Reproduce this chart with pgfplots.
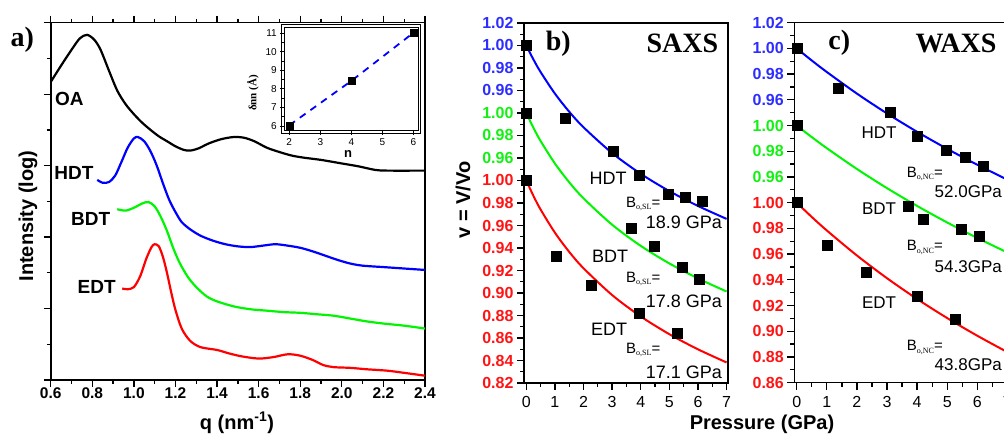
\documentclass[border=0pt]{standalone}
\usepackage{pgfplots}
\pgfplotsset{compat=1.18}
\usepackage{pgfplotstable}
\usepackage{fontspec}
\setmainfont{Liberation Serif}
\setsansfont{Liberation Sans}

\definecolor{cblue}{RGB}{0,0,255}
\definecolor{cgreen}{RGB}{0,245,0}
\definecolor{cred}{RGB}{255,0,0}
\definecolor{tblue}{RGB}{45,45,255}
\definecolor{tgreen}{RGB}{20,240,20}
\definecolor{tred}{RGB}{255,20,20}
\newcommand{\rl}[1]{\textcolor{tred}{#1}}
\newcommand{\gl}[1]{\textcolor{tgreen}{#1}}
\newcommand{\bl}[1]{\textcolor{tblue}{#1}}
\newcommand{\Bsub}[1]{{\fontsize{15}{15}\selectfont B\raisebox{-2.5pt}{\rmfamily\fontsize{8}{8}\selectfont #1}=}}

% ---- panel a: SAXS intensity curves (y in arbitrary log units, 0..5)
\pgfplotstableread{
q I
0.60 4.17
0.65 4.40
0.70 4.62
0.74 4.78
0.775 4.83
0.81 4.76
0.84 4.62
0.88 4.33
0.92 4.05
0.96 3.86
1.00 3.72
1.04 3.60
1.08 3.50
1.12 3.41
1.16 3.34
1.20 3.27
1.24 3.22
1.27 3.21
1.31 3.24
1.36 3.31
1.42 3.37
1.48 3.40
1.53 3.39
1.58 3.34
1.64 3.25
1.70 3.19
1.76 3.14
1.82 3.11
1.90 3.08
2.00 3.03
2.08 2.99
2.16 2.94
2.22 2.93
2.40 2.93
}\curveOA
\pgfplotstableread{
q I
0.824 2.80
0.85 2.76
0.88 2.77
0.91 2.86
0.94 3.05
0.97 3.25
1.00 3.38
1.02 3.40
1.05 3.34
1.08 3.20
1.11 3.00
1.14 2.75
1.17 2.52
1.20 2.35
1.23 2.21
1.27 2.11
1.32 2.02
1.38 1.95
1.44 1.90
1.50 1.87
1.56 1.86
1.62 1.88
1.68 1.90
1.74 1.88
1.80 1.85
1.86 1.80
1.92 1.74
1.98 1.68
2.04 1.63
2.10 1.60
2.20 1.58
2.30 1.56
2.40 1.54
}\curveHDT
\pgfplotstableread{
q I
0.92 2.39
0.96 2.37
1.00 2.41
1.04 2.47
1.07 2.49
1.10 2.43
1.13 2.28
1.16 2.08
1.19 1.84
1.22 1.64
1.26 1.44
1.30 1.30
1.35 1.17
1.40 1.10
1.48 1.03
1.56 0.99
1.64 0.97
1.72 0.95
1.80 0.94
1.88 0.92
1.96 0.90
2.04 0.86
2.12 0.82
2.20 0.79
2.30 0.76
2.40 0.72
}\curveBDT
\pgfplotstableread{
q I
0.944 1.28
0.97 1.27
1.00 1.30
1.03 1.45
1.06 1.70
1.085 1.86
1.10 1.90
1.12 1.87
1.14 1.72
1.16 1.49
1.18 1.22
1.20 0.98
1.23 0.72
1.27 0.55
1.32 0.46
1.40 0.42
1.46 0.37
1.52 0.33
1.60 0.30
1.67 0.32
1.74 0.36
1.80 0.34
1.86 0.28
1.91 0.21
1.96 0.18
2.04 0.17
2.12 0.15
2.22 0.13
2.30 0.10
2.40 0.06
}\curveEDT

% ---- panel b: SAXS, v = V/Vo
\pgfplotstableread{
P v
0 1.000
1.37 0.935
3.05 0.906
3.95 0.885
4.95 0.868
5.56 0.865
6.14 0.862
}\bHDT
\pgfplotstableread{
P v
0 1.000
3.66 0.898
4.48 0.882
5.45 0.863
6.06 0.852
}\bBDT
\pgfplotstableread{
P v
0 1.000
1.06 0.933
2.27 0.907
3.95 0.882
5.28 0.864
}\bEDT
\pgfplotstableread{
P hdt bdt edt
0    1.00000 1.00000 1.00000
0.25 0.98754 0.98682 0.98631
0.5  0.97642 0.97512 0.97422
1    0.95725 0.95511 0.95364
1.5  0.94115 0.93843 0.93656
2    0.92729 0.92416 0.92201
3    0.90440 0.90070 0.89818
4    0.88596 0.88190 0.87916
5    0.87056 0.86628 0.86339
6    0.85738 0.85295 0.84995
7    0.84588 0.84134 0.83827
}\bFit

% ---- panel c: WAXS, v = V/Vo
\pgfplotstableread{
P v
0 1.000
1.38 0.969
3.10 0.950
3.99 0.932
4.98 0.921
5.59 0.915
6.18 0.908
}\cHDT
\pgfplotstableread{
P v
0 1.000
3.71 0.937
4.19 0.927
5.45 0.919
6.07 0.914
}\cBDT
\pgfplotstableread{
P v
0 1.000
1.02 0.967
2.30 0.946
3.99 0.927
5.26 0.909
}\cEDT
\pgfplotstableread{
P hdt bdt edt
0   1.00000 1.00000 1.00000
0.5 0.99061 0.99100 0.98890
1   0.98164 0.98239 0.97839
2   0.96485 0.96622 0.95893
3   0.94941 0.95131 0.94126
4   0.93513 0.93748 0.92511
5   0.92187 0.92459 0.91025
6   0.90949 0.91256 0.89652
7   0.89790 0.90126 0.88377
}\cFit

\pgfplotsset{
  every axis/.append style={scale only axis, anchor=south west,
    axis line style={line width=1.6pt}, tick style={line width=1.3pt, black},
    tick align=outside, major tick length=7pt, minor tick length=4pt},
  fit/.style={line width=2pt, smooth},
  pts/.style={only marks, mark=square*, mark size=5pt, black},
}

\begin{document}
\begin{tikzpicture}
\path[use as bounding box] (0pt,0pt) rectangle (1004pt,435pt);

% panel a
\begin{axis}[at={(50.7pt,55pt)}, width=374.3pt, height=357.3pt,
  xmin=0.6, xmax=2.4, ymin=0, ymax=5,
  xtick={0.6,0.8,1.0,1.2,1.4,1.6,1.8,2.0,2.2,2.4},
  xticklabels={0.6,0.8,1.0,1.2,1.4,1.6,1.8,2.0,2.2,2.4},
  minor x tick num=1,
  ytick={0,1,2,3,4,5}, yticklabels={}, minor y tick num=1,
  xtick pos=both, ytick pos=left, xticklabel shift=-3pt,
  tick label style={font=\sffamily\bfseries\fontsize{15.5}{15.5}\selectfont}]
\addplot[black, line width=2.2pt, smooth] table[x=q, y=I] {\curveOA};
\addplot[cblue, line width=2.2pt, smooth] table[x=q, y=I] {\curveHDT};
\addplot[cgreen, line width=2.2pt, smooth] table[x=q, y=I] {\curveBDT};
\addplot[cred, line width=2.2pt, smooth] table[x=q, y=I] {\curveEDT};
\end{axis}

% inset
\begin{axis}[at={(284.3pt,304.3pt)}, width=134pt, height=103.4pt,
  xmin=1.84, xmax=6.16, ymin=5.75, ymax=11.32,
  xtick={2,3,4,5,6}, xticklabels={2,3,4,5,6},
  ytick={6,7,8,9,10,11}, yticklabels={6,7,8,9,10,11},
  minor y tick num=1, tick pos=left,
  axis background/.style={fill=white},
  axis line style={line width=1.1pt}, tick style={line width=0.9pt},
  major tick length=4pt, minor tick length=2.5pt,
  tick label style={font=\sffamily\fontsize{10}{10}\selectfont},
  clip=false]
\addplot[cblue, line width=1.8pt, dash pattern=on 7pt off 6pt] coordinates {(2,6.04) (4,8.43) (6,11.02)};
\addplot[only marks, mark=square*, mark size=3.5pt, black] coordinates {(2,6.04) (4,8.43) (6,11.02)};
\draw[line width=1pt] ([shift={(-2.6pt,-2.6pt)}]rel axis cs:0,0) rectangle ([shift={(2.6pt,2.6pt)}]rel axis cs:1,1);
\end{axis}

% panel b
\begin{axis}[at={(524pt,52pt)}, width=203.7pt, height=360pt,
  xmin=-0.08, xmax=7.04, ymin=0.82, ymax=1.14,
  xtick={0,1,2,3,4,5,6,7}, xticklabels={0,1,2,3,4,5,6,7}, minor x tick num=1,
  ytick={0.82,0.84,0.86,0.88,0.90,0.92,0.94,0.96,0.98,1.00,1.02,1.04,1.06,1.08,1.10,1.12,1.14},
  yticklabels={\rl{0.82},\rl{0.84},\rl{0.86},\rl{0.88},\rl{0.90},\rl{0.92},\rl{0.94},\rl{0.96},\rl{0.98},\rl{1.00},\gl{0.96},\gl{0.98},\gl{1.00},\bl{0.96},\bl{0.98},\bl{1.00},\bl{1.02}},
  minor y tick num=1, tick pos=left, xticklabel shift=3pt,
  x tick label style={font=\sffamily\fontsize{16}{16}\selectfont},
  y tick label style={font=\sffamily\bfseries\fontsize{16}{16}\selectfont}]
\addplot[fit, cblue] table[x=P, y expr=\thisrow{hdt}+0.12] {\bFit};
\addplot[fit, cgreen] table[x=P, y expr=\thisrow{bdt}+0.06] {\bFit};
\addplot[fit, cred] table[x=P, y=edt] {\bFit};
\addplot[pts] table[x=P, y expr=\thisrow{v}+0.12] {\bHDT};
\addplot[pts] table[x=P, y expr=\thisrow{v}+0.06] {\bBDT};
\addplot[pts] table[x=P, y=v] {\bEDT};
\end{axis}

% panel c (its right edge runs past the picture, as in the reference)
\begin{axis}[at={(794.3pt,52.3pt)}, width=214.3pt, height=360pt,
  xmin=-0.08, xmax=7.04, ymin=0.86, ymax=1.14,
  xtick={0,1,2,3,4,5,6,7}, xticklabels={0,1,2,3,4,5,6,7}, minor x tick num=1,
  ytick={0.86,0.88,0.90,0.92,0.94,0.96,0.98,1.00,1.02,1.04,1.06,1.08,1.10,1.12,1.14},
  yticklabels={\rl{0.86},\rl{0.88},\rl{0.90},\rl{0.92},\rl{0.94},\rl{0.96},\rl{0.98},\rl{1.00},\gl{0.96},\gl{0.98},\gl{1.00},\bl{0.96},\bl{0.98},\bl{1.00},\bl{1.02}},
  minor y tick num=1, tick pos=left, xticklabel shift=3pt,
  x tick label style={font=\sffamily\fontsize{16}{16}\selectfont},
  y tick label style={font=\sffamily\bfseries\fontsize{16}{16}\selectfont}]
\addplot[fit, cblue] table[x=P, y expr=\thisrow{hdt}+0.12] {\cFit};
\addplot[fit, cgreen] table[x=P, y expr=\thisrow{bdt}+0.06] {\cFit};
\addplot[fit, cred] table[x=P, y=edt] {\cFit};
\addplot[pts] table[x=P, y expr=\thisrow{v}+0.12] {\cHDT};
\addplot[pts] table[x=P, y expr=\thisrow{v}+0.06] {\cBDT};
\addplot[pts] table[x=P, y=v] {\cEDT};
\end{axis}

% panel letters and titles
\begin{scope}[font=\bfseries\fontsize{28}{28}\selectfont]
\node at (22.3pt,395.7pt) {a)};
\node at (558.3pt,391.7pt) {b)};
\node at (682.3pt,391.7pt) {SAXS};
\node at (839.3pt,392pt) {c)};
\node[anchor=west] at (912pt,392pt) {WAXS};
\end{scope}

% axis titles
\begin{scope}[font=\sffamily\bfseries\fontsize{20}{20}\selectfont]
\node[rotate=90] at (28pt,219pt) {Intensity (log)};
\node at (237pt,12pt) {q (nm\textsuperscript{-1})};
\node[rotate=90] at (463pt,235pt) {v = V/Vo};
\node at (762pt,11pt) {Pressure (GPa)};
\end{scope}

% inset titles
\node[rotate=90, font=\bfseries\fontsize{11}{11}\selectfont] at (253pt,342pt) {δnn (Å)};
\node[font=\sffamily\bfseries\fontsize{13}{13}\selectfont] at (348pt,281pt) {n};

% curve names in panel a
\begin{scope}[font=\sffamily\bfseries\fontsize{19}{19}\selectfont]
\node at (69.3pt,336pt) {OA};
\node at (74pt,261.7pt) {HDT};
\node at (90.7pt,215.7pt) {BDT};
\node at (96.7pt,148.3pt) {EDT};
\end{scope}

% annotations in panel b
\begin{scope}[font=\sffamily\fontsize{18}{18}\selectfont]
\node at (608pt,257pt) {HDT};
\node[anchor=west, inner sep=0pt] at (626pt,231pt) {\Bsub{o,SL}};
\node[anchor=east, inner sep=0pt] at (722pt,213pt) {18.9 GPa};
\node at (610pt,179pt) {BDT};
\node[anchor=west, inner sep=0pt] at (626pt,156pt) {\Bsub{o,SL}};
\node[anchor=east, inner sep=0pt] at (722pt,134pt) {17.8 GPa};
\node at (609pt,106pt) {EDT};
\node[anchor=west, inner sep=0pt] at (626pt,85pt) {\Bsub{o,SL}};
\node[anchor=east, inner sep=0pt] at (722pt,63pt) {17.1 GPa};
\end{scope}

% annotations in panel c
\begin{scope}[font=\sffamily\fontsize{17}{17}\selectfont]
\node at (879pt,302.5pt) {HDT};
\node[anchor=west, inner sep=0pt] at (906.7pt,261pt) {\Bsub{o,NC}};
\node[anchor=east, inner sep=0pt] at (1002pt,243.3pt) {52.0GPa};
\node at (879pt,226pt) {BDT};
\node[anchor=west, inner sep=0pt] at (906.7pt,187.5pt) {\Bsub{o,NC}};
\node[anchor=east, inner sep=0pt] at (1002pt,168.3pt) {54.3GPa};
\node at (879pt,132.5pt) {EDT};
\node[anchor=west, inner sep=0pt] at (906.7pt,87.5pt) {\Bsub{o,NC}};
\node[anchor=east, inner sep=0pt] at (1002pt,70pt) {43.8GPa};
\end{scope}
\end{tikzpicture}
\end{document}
